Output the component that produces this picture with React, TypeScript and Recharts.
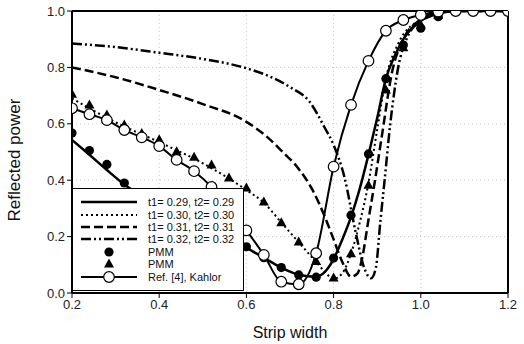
import {
  ComposedChart,
  Line,
  XAxis,
  YAxis,
  CartesianGrid,
  ReferenceLine,
  Legend,
} from "recharts"

const FONT = "'Liberation Sans', Arial, sans-serif"

// x ticks / y ticks
const xTicks = [0.2, 0.4, 0.6, 0.8, 1.0, 1.2]
const yTicks = [0, 0.2, 0.4, 0.6, 0.8, 1.0]

// t1 = 0.29, t2 = 0.29 (solid)
const t029X = [0.2, 0.24, 0.28, 0.32, 0.36, 0.4, 0.44, 0.48, 0.52, 0.56, 0.6, 0.64, 0.68, 0.72, 0.76, 0.78, 0.8, 0.82, 0.84, 0.86, 0.88, 0.9, 0.92, 0.94, 0.96, 0.98, 1.0, 1.04, 1.08, 1.2]
const t029Y = [0.543, 0.49, 0.436, 0.385, 0.345, 0.31, 0.28, 0.25, 0.22, 0.19, 0.16, 0.125, 0.09, 0.065, 0.058, 0.075, 0.12, 0.19, 0.27, 0.37, 0.49, 0.62, 0.76, 0.84, 0.9, 0.94, 0.965, 0.99, 1.0, 1.0]

// t1 = 0.30, t2 = 0.30 (dotted)
const t030X = [0.2, 0.3, 0.4, 0.5, 0.6, 0.64, 0.68, 0.72, 0.76, 0.78, 0.8, 0.82, 0.84, 0.86, 0.88, 0.9, 0.92, 0.95, 1.0, 1.04, 1.1, 1.2]
const t030Y = [0.69, 0.605, 0.535, 0.46, 0.365, 0.32, 0.25, 0.18, 0.11, 0.075, 0.05, 0.07, 0.14, 0.25, 0.39, 0.58, 0.76, 0.89, 0.97, 0.995, 1.0, 1.0]

// t1 = 0.31, t2 = 0.31 (dashed)
const t031X = [0.2, 0.3, 0.4, 0.5, 0.6, 0.65, 0.68, 0.72, 0.75, 0.78, 0.8, 0.82, 0.84, 0.855, 0.865, 0.88, 0.895, 0.91, 0.935, 0.96, 1.0, 1.04, 1.1, 1.2]
const t031Y = [0.8, 0.765, 0.72, 0.67, 0.607, 0.55, 0.505, 0.44, 0.37, 0.27, 0.19, 0.11, 0.058, 0.07, 0.12, 0.26, 0.4, 0.55, 0.79, 0.9, 0.97, 0.995, 1.0, 1.0]

// t1 = 0.32, t2 = 0.32 (dash-dot-dot)
const t032X = [0.2, 0.3, 0.4, 0.5, 0.6, 0.65, 0.7, 0.745, 0.78, 0.8, 0.825, 0.85, 0.87, 0.886, 0.897, 0.907, 0.917, 0.93, 0.947, 0.97, 1.0, 1.04, 1.1, 1.2]
const t032Y = [0.885, 0.872, 0.852, 0.83, 0.797, 0.77, 0.73, 0.678, 0.585, 0.525, 0.41, 0.22, 0.09, 0.052, 0.09, 0.25, 0.4, 0.6, 0.79, 0.91, 0.965, 0.995, 1.0, 1.0]

// Ref. [4], Kahlor (open circles)
const kahlorX = [0.2, 0.24, 0.28, 0.32, 0.36, 0.4, 0.44, 0.48, 0.52, 0.56, 0.6, 0.64, 0.68, 0.72, 0.76, 0.8, 0.84, 0.88, 0.92, 0.96, 1.0, 1.04, 1.08, 1.12, 1.16, 1.2]
const kahlorY = [0.655, 0.634, 0.613, 0.578, 0.552, 0.521, 0.472, 0.432, 0.376, 0.3, 0.222, 0.135, 0.04, 0.031, 0.141, 0.448, 0.667, 0.823, 0.93, 0.968, 0.986, 0.998, 1.0, 1.0, 1.0, 1.0]

// PMM points
const pmmX = [0.2, 0.24, 0.28, 0.32, 0.36, 0.4, 0.44, 0.48, 0.52, 0.56, 0.6, 0.64, 0.68, 0.72, 0.76, 0.8, 0.84, 0.88, 0.92, 0.96, 1.0, 1.04]
const pmmCircleY = [0.567, 0.505, 0.456, 0.39, 0.35, 0.32, 0.29, 0.26, 0.225, 0.195, 0.164, 0.125, 0.09, 0.064, 0.056, 0.124, 0.276, 0.493, 0.76, 0.879, 0.939, 0.98]
const pmmTriangleY = [0.705, 0.667, 0.631, 0.596, 0.566, 0.543, 0.501, 0.481, 0.454, 0.408, 0.372, 0.323, 0.249, 0.181, 0.112, 0.053, 0.139, 0.382, 0.72, 0.87, 0.95, 0.985]

const toPoints = (xs: number[], ys: number[]) => xs.map((x, i) => ({ x, y: ys[i] }))

const DOTTED = "2 3"
const DASHED = "9 4"
const DASHDOT = "10 3 2 3 2 3"

const filledDot = (p: any) => (
  <circle key={`c${p.index}`} cx={p.cx} cy={p.cy} r={4.6} fill="#000" />
)
const triangleDot = (p: any) => (
  <path
    key={`t${p.index}`}
    d={`M${p.cx},${p.cy - 5.5} L${p.cx + 5},${p.cy + 3.5} L${p.cx - 5},${p.cy + 3.5} Z`}
    fill="#000"
  />
)
const openDot = (p: any) => (
  <circle key={`o${p.index}`} cx={p.cx} cy={p.cy} r={5.3} fill="#fff" stroke="#000" strokeWidth={1.2} />
)

const legendRows = [
  { label: "t1= 0.29, t2= 0.29", kind: "solid" },
  { label: "t1= 0.30, t2= 0.30", kind: "dotted" },
  { label: "t1= 0.31, t2= 0.31", kind: "dashed" },
  { label: "t1= 0.32, t2= 0.32", kind: "dashdot" },
  { label: "PMM", kind: "circle" },
  { label: "PMM", kind: "triangle" },
  { label: "Ref. [4], Kahlor", kind: "kahlor" },
]

function LegendSample({ kind }: { kind: string }) {
  const line = (dash?: string, w = 2.5) => (
    <line x1={2} y1={6} x2={58} y2={6} stroke="#000" strokeWidth={w} strokeDasharray={dash} />
  )
  return (
    <svg width={60} height={12} style={{ display: "block" }}>
      {kind === "solid" && line()}
      {kind === "dotted" && line(DOTTED, 2)}
      {kind === "dashed" && line(DASHED)}
      {kind === "dashdot" && line(DASHDOT)}
      {kind === "circle" && <circle cx={30} cy={6} r={4.6} fill="#000" />}
      {kind === "triangle" && <path d="M30,0.5 L35,9.5 L25,9.5 Z" fill="#000" />}
      {kind === "kahlor" && (
        <>
          {line(undefined, 2)}
          <circle cx={30} cy={6} r={5.3} fill="#fff" stroke="#000" strokeWidth={1.2} />
        </>
      )}
    </svg>
  )
}

function ChartLegend() {
  return (
    <div
      style={{
        width: 172,
        height: 103,
        boxSizing: "border-box",
        border: "1px solid #000",
        background: "#fff",
        padding: "7px 0 0 6px",
        fontFamily: FONT,
        fontSize: 11,
        color: "#111",
      }}
    >
      {legendRows.map((r, i) => (
        <div key={i} style={{ display: "flex", alignItems: "center", height: 12.4 }}>
          <LegendSample kind={r.kind} />
          <span style={{ marginLeft: 9, whiteSpace: "nowrap" }}>{r.label}</span>
        </div>
      ))}
    </div>
  )
}

export default function App() {
  const tickStyle = { fill: "#222", fontSize: 13, fontFamily: FONT }
  return (
    <div style={{ width: 524, height: 344, background: "#fff" }}>
      <style>{"body{margin:0;background:#fff}"}</style>
      <ComposedChart width={524} height={344} margin={{ top: 11, right: 16, bottom: 0, left: 0 }}>
        <CartesianGrid stroke="#c8c8c8" strokeDasharray="1 3" />
        <XAxis
          type="number"
          dataKey="x"
          domain={[0.2, 1.2]}
          ticks={xTicks}
          allowDataOverflow
          height={51}
          tick={tickStyle}
          tickFormatter={(v: number) => v.toFixed(1)}
          tickSize={5}
          tickLine={{ stroke: "#000" }}
          axisLine={{ stroke: "#000", strokeWidth: 2 }}
          label={{ value: "Strip width", position: "insideBottom", offset: 6, fill: "#111", fontSize: 16, fontFamily: FONT }}
        />
        <YAxis
          type="number"
          domain={[0, 1]}
          ticks={yTicks}
          allowDataOverflow
          width={72}
          tick={tickStyle}
          tickFormatter={(v: number) => v.toFixed(1)}
          tickSize={5}
          tickLine={{ stroke: "#000" }}
          axisLine={{ stroke: "#000", strokeWidth: 2 }}
          label={{ value: "Reflected power", angle: -90, position: "insideLeft", offset: 14, dy: 8, style: { textAnchor: "middle" }, fill: "#111", fontSize: 17, fontFamily: FONT }}
        />
        <ReferenceLine y={1} stroke="#000" strokeWidth={2} />
        <ReferenceLine x={1.2} stroke="#000" strokeWidth={2} />

        <Line data={toPoints(t032X, t032Y)} dataKey="y" type="monotone" stroke="#000" strokeWidth={2.5} strokeDasharray={DASHDOT} dot={false} activeDot={false} isAnimationActive={false} />
        <Line data={toPoints(t031X, t031Y)} dataKey="y" type="monotone" stroke="#000" strokeWidth={2.5} strokeDasharray={DASHED} dot={false} activeDot={false} isAnimationActive={false} />
        <Line data={toPoints(t030X, t030Y)} dataKey="y" type="monotone" stroke="#000" strokeWidth={2} strokeDasharray={DOTTED} dot={false} activeDot={false} isAnimationActive={false} />
        <Line data={toPoints(t029X, t029Y)} dataKey="y" type="monotone" stroke="#000" strokeWidth={2.5} dot={false} activeDot={false} isAnimationActive={false} />
        <Line data={toPoints(pmmX, pmmCircleY)} dataKey="y" stroke="none" dot={filledDot} activeDot={false} isAnimationActive={false} />
        <Line data={toPoints(pmmX, pmmTriangleY)} dataKey="y" stroke="none" dot={triangleDot} activeDot={false} isAnimationActive={false} />
        <Line data={toPoints(kahlorX, kahlorY)} dataKey="y" type="monotone" stroke="#000" strokeWidth={2} dot={openDot} activeDot={false} isAnimationActive={false} />

        <Legend
          layout="vertical"
          align="center"
          verticalAlign="middle"
          content={() => <ChartLegend />}
          wrapperStyle={{ left: 72, top: 188, width: 172, height: 103 }}
        />
      </ComposedChart>
    </div>
  )
}
